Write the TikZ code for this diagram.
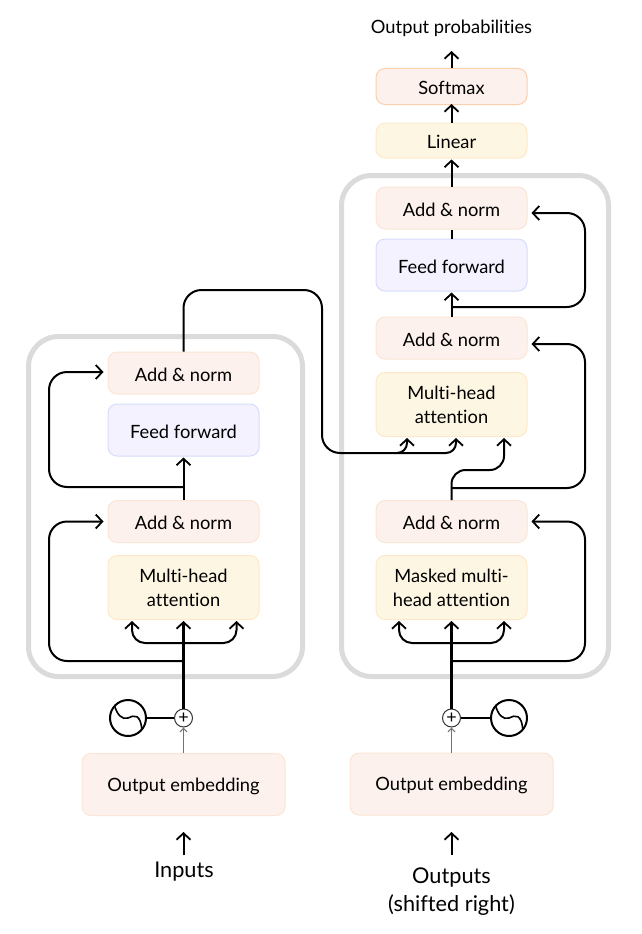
\documentclass[tikz,border=0pt]{standalone}
\usepackage{fontspec}
\setmainfont{Lato}[Ligatures=NoCommon]
\usetikzlibrary{positioning}
\usetikzlibrary{calc}
\usetikzlibrary{arrows.meta}
\definecolor{addfill}{HTML}{FCF1EC}
\definecolor{adddraw}{HTML}{FBE5D6}
\definecolor{softdraw}{HTML}{FACFAE}
\definecolor{attfill}{HTML}{FDF6E3}
\definecolor{attdraw}{HTML}{FDE9C9}
\definecolor{ffill}{HTML}{F3F2FE}
\definecolor{ffdraw}{HTML}{D6DCFA}
\definecolor{framegray}{HTML}{DBDBDB}

\begin{document}
\begin{tikzpicture}[x=1pt, y=-1pt, >={Straight Barb[length=6.5pt,width=14pt,line width=1.8pt]},
box/.style={rectangle,rounded corners=9pt,line width=1pt,minimum width=151pt,inner sep=0pt,align=center,font=\fontsize{18.3}{24}\selectfont,execute at begin node={\rule{0pt}{17pt}}},
addbox/.style={box,fill=addfill,draw=adddraw,minimum height=42pt},
attbox/.style={box,fill=attfill,draw=attdraw,minimum height=64pt},
ffbox/.style={box,fill=ffill,draw=ffdraw,minimum height=52pt},
embbox/.style={box,fill=addfill,draw=adddraw,minimum width=203pt,minimum height=62pt},
frame/.style={rectangle,rounded corners=30pt,draw=framegray,line width=5pt,inner sep=0pt},
wire/.style={line width=2pt},
thickwire/.style={line width=2.6pt},
graywire/.style={line width=1.6pt,black!55,>={Straight Barb[length=3.5pt,width=7pt,line width=1.2pt]}},
label/.style={inner sep=0pt,align=center,font=\fontsize{21.7}{28}\selectfont},
sumdot/.style={circle,draw=black!80,fill=white,line width=1pt,minimum size=18pt,inner sep=0pt,font=\fontsize{18}{18}\selectfont},
sinedot/.style={circle,draw,fill=white,line width=2pt,minimum size=36pt,inner sep=0pt,path picture={
  \draw[line width=1.6pt,shift={(path picture bounding box.center)}] (-14,-14) .. controls (-11,-3) and (-6,2) .. (0,0) .. controls (6,-3) and (13,-5) .. (14,14);}}]
\useasboundingbox (0,0) rectangle (642,934);

% frames
\node [frame,minimum width=274pt,minimum height=340pt] (encoder) at (165.5,506.5) {};
\node [frame,minimum width=267pt,minimum height=501pt] (decoder) at (475,426) {};

% encoder boxes
\node [addbox] (addb) at (183.5,373) {Add \& norm};
\node [ffbox] (ffa) at (183.5,430) {Feed forward};
\node [addbox] (adda) at (183.5,521.5) {Add \& norm};
\node [attbox] (mha) at (183.5,587.5) {Multi-head\\attention};
\node [embbox] (emba) at (183.5,784.5) {Output embedding};

% decoder boxes
\node [addbox,draw=softdraw,minimum height=36pt] (softmax) at (451.5,86.5) {Softmax};
\node [addbox,fill=attfill,draw=attdraw,minimum height=35pt] (linear) at (451.5,140.5) {Linear};
\node [addbox] (adde) at (451.5,208) {Add \& norm};
\node [ffbox] (ffb) at (451.5,265) {Feed forward};
\node [addbox] (addd) at (451.5,338) {Add \& norm};
\node [attbox] (mhb) at (451.5,404.5) {Multi-head\\attention};
\node [addbox] (addc) at (451.5,521.5) {Add \& norm};
\node [attbox] (mhc) at (451.5,587.5) {Masked multi-\\head attention};
\node [embbox] (embb) at (451.5,784) {Output embedding};

% texts
\node [label,font=\fontsize{18.3}{24}\selectfont] (probs) at (451.5,28) {Output probabilities};
\node [label] (inputs) at (184,872) {Inputs};
\node [label] (outputs) at (451.5,892) {Outputs\\(shifted right)};

% positional encoding
\node [sumdot] (suma) at (183.5,718) {+};
\node [sinedot] (sinea) at (128,718) {};
\node [sumdot] (sumb) at (451.5,718) {+};
\node [sinedot] (sineb) at (509,718) {};

% free ends
\coordinate (intipa) at (183.5,832);
\coordinate (intaila) at (183.5,855);
\coordinate (intipb) at (451.5,832);
\coordinate (intailb) at (451.5,855);
\coordinate (tipprobs) at (451.5,51);
\coordinate (tapa) at (183.5,661);
\coordinate (tapb) at (183.5,487);
\coordinate (tapc) at (183.5,643);
\coordinate (tipal) at (132,621);
\coordinate (tipar) at (236.5,621);
\coordinate (tapd) at (451.5,643);
\coordinate (tipcl) at (399,621);
\coordinate (tipcr) at (504,621);
\coordinate (tape) at (451.5,661);
\coordinate (tapf) at (451.5,488);
\coordinate (tapg) at (451.5,307);
\coordinate (tiptop) at (407,438);
\coordinate (tipmid) at (456,438);
\coordinate (tipbot) at (504,438);
\coordinate (taph) at (397,453);

% lines
\draw [thickwire,->] (suma) -- ($(mha.south)+(0,1)$);
\draw [thickwire,->] (sumb) -- ($(mhc.south)+(0,1)$);
\draw [wire] (sinea) -- (suma);
\draw [wire] (sineb) -- (sumb);
\draw [graywire,->] (emba.north) -- (suma);
\draw [graywire,->] (embb.north) -- (sumb);
\draw [wire,->] (intaila) -- (intipa);
\draw [wire,->] (intailb) -- (intipb);

% encoder
\draw [wire,->,rounded corners=13pt] (tapc) -| (tipal);
\draw [wire,->,rounded corners=13pt] (tapc) -| (tipar);
\draw [wire,->,rounded corners=18pt] (tapa) -- (49,661) |- ($(adda.west)+(-4,0)$);
\draw [wire,->,rounded corners=18pt] (tapb) -- (49,487) |- ($(addb.west)+(-4,-1)$);
\draw [wire,->] (adda.north) -- ($(ffa.south)+(0,1)$);

% encoder to decoder
\draw [wire,->,rounded corners=18pt] (addb.north) -- (183.5,290) -- (322,290) -- (322,453) [rounded corners=10pt] -| (tipmid);
\draw [wire,->,rounded corners=10pt] (taph) -| (tiptop);

% decoder
\draw [wire,->,rounded corners=13pt] (tapd) -| (tipcl);
\draw [wire,->,rounded corners=13pt] (tapd) -| (tipcr);
\draw [wire,->,rounded corners=18pt] (tape) -- (585,661) |- ($(addc.east)+(4,0)$);
\draw [wire,->,rounded corners=18pt] (tapf) -- (585,488) |- ($(addd.east)+(4,6)$);
\draw [wire,->,rounded corners=18pt] (tapg) -- (585,307) |- ($(adde.east)+(4,5)$);
\draw [wire,->,rounded corners=14pt] (addc.north) -- ++(0,-30) -| (tipbot);
\draw [wire,->] (addd.north) -- ($(ffb.south)+(0,1)$);
\draw [wire] (ffb.north) -- (adde.south);
\draw [wire,->] (adde.north) -- ($(linear.south)+(0,1)$);
\draw [wire,->] (linear.north) -- ($(softmax.south)+(0,-1)$);
\draw [wire,->] (softmax.north) -- (tipprobs);
\end{tikzpicture}
\end{document}
